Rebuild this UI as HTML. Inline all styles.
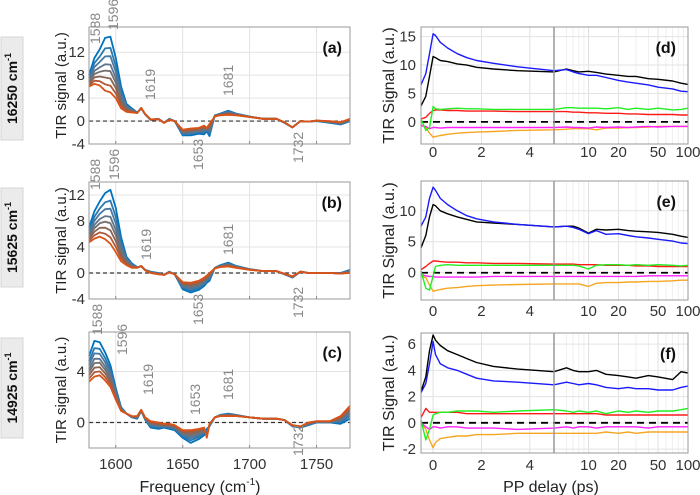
<!DOCTYPE html>
<html><head><meta charset="utf-8"><style>
body{margin:0;background:#fff;}
svg{display:block;font-family:"Liberation Sans",sans-serif;}
</style></head><body>
<svg id="fig" width="700" height="495" viewBox="0 0 700 495"></svg>
<script>
// ---------- spectra data ----------
const freq = [1580,1584,1588,1592,1596,1600,1604,1608,1612,1616,1619,1622,1626,1632,1636,1640,1644,1650,1656,1662,1666,1668,1670,1674,1678,1684,1690,1700,1710,1720,1726,1732,1738,1744,1750,1760,1768,1775];
const aBlue = [8,11,12.5,14.5,14.7,11,6,3,2.2,1.5,2.2,1.2,0.2,0.4,-0.3,0.4,0,-2.5,-2.5,-2.2,-2.3,-1.8,-2.6,1,1.3,1.8,1.3,0.8,0.4,0.4,-0.3,-1.1,0,-0.1,0,-0.3,-0.6,0];
const aOrange = [6,6.5,6.2,5.3,5,4,2.2,1.6,1.5,1.4,2.3,1.2,0.3,0.3,-0.3,0.2,0,-1.5,-1.3,-1.2,-0.8,-1.2,-0.5,0.8,1,1.1,1,0.7,0.4,0.4,-0.2,-1.1,0,-0.1,0.1,0,-0.2,0.4];
const bBlue = [7,9.5,11,12.3,12.8,10,5.5,2.5,1.5,0.9,1,0.5,0.2,0,-0.3,0.2,-0.2,-2.5,-3,-2.6,-2,-1.5,-1.2,0.8,1.2,1.6,1.1,0.6,0.3,0.3,-0.2,-0.7,0.2,0,0,0,0,0.5];
const bOrange = [4.7,5.3,5.6,5.2,4.5,3.2,1.8,1.2,0.8,0.8,1.1,0.4,0,-0.2,-0.3,0.1,-0.2,-1.4,-1.5,-1.2,-0.7,-0.4,0,0.7,0.9,1,0.8,0.5,0.3,0.3,-0.1,-0.5,0.2,0,0,0,-0.1,0];
const cBlue = [5.2,6.4,6.3,5.5,4.5,2.7,1.2,0.7,0.4,0.3,0.9,0.2,-0.4,-0.5,-0.4,-0.5,-0.6,-1.2,-1.6,-1.3,-1,-0.5,-0.3,0.4,0.6,0.7,0.6,0.4,0.3,0.3,0.2,-0.3,-0.4,-0.2,0,0,-0.1,0.3];
const cOrange = [3.2,3.6,3.7,3.3,2.8,1.8,0.9,0.7,0.5,0.5,1.0,0.4,0.1,0,-0.1,-0.1,-0.2,-0.6,-0.6,-0.5,-0.4,-1.2,-0.1,0.4,0.5,0.5,0.5,0.4,0.3,0.3,0.2,-0.2,-0.3,0,0.1,0.1,0.5,1.3];
const mixWeights = [0,0.2,0.35,0.5,0.62,0.75,0.88,1];
const specColors = ["#0072BD","#2a78b0","#4a78a0","#60748a","#757070","#8a6455","#b05a38","#D95319"];
// ---------- kinetics data ----------
const times = [-0.5,-0.3,-0.15,0,0.1,0.3,0.6,1,1.4,1.8,2.5,3.5,5,6,7,8,10,12,15,20,25,30,40,50,70,85,100];
const dBlue=[6.5,8.5,12,15.5,15.2,14,13,12,11.3,10.8,10.3,9.7,9,9.2,8.8,8.5,8.2,8.2,7.8,7.3,7,6.8,6.5,6.1,5.8,5.4,5.3];
const dBlack=[2.8,4.5,8,11.5,11.3,10.8,10.6,10.2,10,9.6,9.3,9,8.8,9.3,9.0,8.8,8.9,8.7,8.4,8.2,8.0,8.0,7.6,7.5,7.2,6.8,6.6];
const dGreen=[0.5,-1.5,-1,2.7,2.3,2.2,2.3,2.4,2.3,2.3,2.2,2.2,2.2,2.5,2.5,2.4,2.4,2.4,2.3,2.5,2.2,2.4,2.2,2.4,2.1,2.2,2.4];
const dRed=[0.5,0.8,1.5,2.0,2.1,2.1,2.0,2.0,1.9,1.9,1.9,1.8,1.8,1.8,1.7,1.7,1.6,1.6,1.5,1.5,1.4,1.4,1.3,1.3,1.3,1.2,1.2];
const dMagenta=[-0.7,-0.8,-1.2,-1.0,-1.0,-1.1,-1.0,-1.0,-1.0,-1.0,-1.0,-1.0,-1.0,-0.9,-1.0,-1.0,-1.1,-0.9,-1.0,-0.9,-1.0,-0.9,-0.8,-0.9,-0.8,-0.8,-0.8];
const dOrange=[-0.5,-1,-2,-2.7,-2.6,-2.4,-2.2,-2.0,-1.9,-1.8,-1.7,-1.5,-1.4,-1.3,-1.2,-1.2,-1.2,-1.4,-1.1,-1.1,-1.0,-1.0,-0.9,-0.8,-0.8,-0.8,-0.8];
const eBlue=[7.5,9,12,13.8,13.3,12,11,10,9.2,8.7,8.2,7.8,7.4,7.5,7.3,7.0,6.3,6.8,6.2,6.3,6.0,5.8,5.6,5.4,5.1,4.8,4.7];
const eBlack=[4,6,9,11,10.8,10,9.5,9,8.6,8.2,8,7.8,7.4,7.5,7.5,7.2,6.4,7.0,6.9,7.0,6.8,6.7,6.6,6.5,6.2,5.9,5.7];
const eGreen=[0.3,-2.5,-2.8,-0.5,1.0,1.2,1.3,1.2,1.2,1.2,1.2,1.2,1.2,1.2,1.2,1.1,0.6,1.2,1.3,1.3,1.2,1.3,1.2,1.3,1.2,1.1,1.2];
const eRed=[0.5,1,1.5,1.9,1.9,1.8,1.7,1.7,1.6,1.6,1.5,1.5,1.4,1.4,1.4,1.3,1.3,1.3,1.2,1.2,1.2,1.1,1.1,1.0,1.0,1.0,1.0];
const eMagenta=[-0.3,-0.5,-0.6,-0.6,-0.7,-0.7,-0.7,-0.7,-0.7,-0.7,-0.6,-0.6,-0.6,-0.6,-0.6,-0.6,-0.6,-0.6,-0.6,-0.6,-0.6,-0.6,-0.5,-0.5,-0.5,-0.5,-0.5];
const eOrange=[-0.5,-0.8,-2,-3.0,-2.9,-2.7,-2.5,-2.4,-2.2,-2.1,-2.0,-1.9,-1.8,-1.8,-1.8,-1.8,-2.2,-1.7,-1.6,-1.6,-1.5,-1.5,-1.4,-1.4,-1.3,-1.2,-1.2];
const fBlack=[2.4,3.5,5.5,6.7,6.3,5.9,5.5,5.2,4.9,4.6,4.3,4.1,3.9,4.2,4.0,3.9,3.9,4.0,3.7,3.6,3.5,3.4,3.6,3.5,3.3,3.9,3.8];
const fBlue=[2.3,3,4.5,6.2,5.2,4.5,4.2,4.0,3.7,3.4,3.2,3.1,2.9,3.1,3.0,2.9,3.0,2.9,2.7,2.6,2.7,2.6,2.6,2.5,2.5,2.7,2.8];
const fGreen=[0.2,-1.3,-0.5,0.6,0.7,0.8,0.8,0.9,0.9,0.9,0.8,0.9,1.0,0.9,0.8,0.9,0.8,0.9,0.7,0.9,0.8,0.9,0.8,0.9,0.9,1.0,1.1];
const fRed=[0.4,1.1,0.8,0.8,0.8,0.8,0.8,0.8,0.7,0.7,0.7,0.7,0.7,0.7,0.7,0.7,0.7,0.7,0.6,0.6,0.6,0.6,0.6,0.6,0.6,0.6,0.6];
const fMagenta=[0,-0.3,-0.5,-0.3,-0.3,-0.4,-0.3,-0.3,-0.4,-0.4,-0.4,-0.5,-0.4,-0.3,-0.4,-0.3,-0.3,-0.4,-0.3,-0.3,-0.3,-0.3,-0.4,-0.3,-0.3,-0.3,-0.3];
const fOrange=[0,-0.5,-1.3,-1.9,-1.5,-1.2,-1.1,-1.0,-1.0,-0.9,-0.9,-0.8,-0.8,-0.8,-0.8,-0.8,-0.8,-0.8,-0.7,-0.8,-0.7,-0.8,-0.7,-0.7,-0.7,-0.7,-0.7];
const linTicks=[0,2,4];
const logTicks=[10,20,50,100];
const freqTicks=[1600,1650,1700,1750];

const NS="http://www.w3.org/2000/svg";
const svg=document.getElementById('fig');
function mk(tag,attrs,parent){const e=document.createElementNS(NS,tag);for(const k in attrs)e.setAttribute(k,attrs[k]);(parent||svg).appendChild(e);return e;}
function txt(s,x,y,size,fill,anchor,parent,extra){const t=mk('text',Object.assign({x:x,y:y,'font-size':size,fill:fill,'text-anchor':anchor||'middle'},extra||{}),parent);t.textContent=s;return t;}

// ---------- left panels ----------
const L={x0:89,x1:350,f0:1580,f1:1775};
function fx(f){return L.x0+(f-L.f0)/(L.f1-L.f0)*(L.x1-L.x0);}
const leftPanels=[
 {id:'a',top:27,bot:144,ymin:-4,ymax:16.4,ticks:[-4,0,4,8,12],blue:aBlue,orange:aOrange,side:'16250',sy0:37,sy1:140,
  peaks:[[1588,95,44],[1596,113,30],[1619,150,100],[1681,228,96],[1653,198,170],[1732,298,163]]},
 {id:'b',top:182,bot:299,ymin:-4,ymax:14,ticks:[-4,0,4,8,12],blue:bBlue,orange:bOrange,side:'15625',sy0:188,sy1:287,
  peaks:[[1588,95,190],[1596,114,180],[1619,146,260],[1681,228,255],[1653,198,325],[1732,298,318]]},
 {id:'c',top:332,bot:448,ymin:-2,ymax:7.1,ticks:[0,4],blue:cBlue,orange:cOrange,side:'14925',sy0:338,sy1:438,xlabels:true,
  peaks:[[1588,97,335],[1596,122,355],[1619,148,395],[1653,195,415],[1681,228,400],[1732,298,456]]}
];
leftPanels.forEach(p=>{
  const g=mk('g',{});
  
  
  const fy=v=>p.bot-(v-p.ymin)/(p.ymax-p.ymin)*(p.bot-p.top);
  // side label
  const sb=mk('rect',{x:1,y:p.sy0,width:22,height:p.sy1-p.sy0,fill:'#ebebeb',stroke:'#d4d4d4'},g);
  
  
  const cy=(p.sy0+p.sy1)/2;
  const st=mk('text',{x:17,y:cy,'font-size':14,'font-weight':'bold',fill:'#111','text-anchor':'middle',transform:'rotate(-90 17 '+cy+')'},g);
  
  
  st.appendChild(document.createTextNode(p.side+' cm'));
  const sup=document.createElementNS(NS,'tspan');sup.setAttribute('font-size',9);sup.setAttribute('dy','-6');sup.textContent='-1';st.appendChild(sup);
  // box + grid
  mk('rect',{x:L.x0,y:p.top,width:L.x1-L.x0,height:p.bot-p.top,fill:'#fff'},g);
  freqTicks.forEach(f=>{mk('line',{x1:fx(f),x2:fx(f),y1:p.top,y2:p.bot,stroke:'#e3e3e3'},g);mk('line',{x1:fx(f),x2:fx(f),y1:p.bot,y2:p.bot-3,stroke:'#888'},g);});
  p.ticks.forEach(v=>{mk('line',{x1:L.x0,x2:L.x1,y1:fy(v),y2:fy(v),stroke:'#e3e3e3'},g);
    const t=txt(v,L.x0-4,fy(v)+5,15,'#333','end',g);});
  mk('line',{x1:L.x0,x2:L.x1,y1:fy(0),y2:fy(0),stroke:'#333','stroke-dasharray':'4,3','stroke-width':1.2},g);
  // curves
  mixWeights.forEach((w,i)=>{
    let d='';freq.forEach((f,k)=>{const v=p.blue[k]*(1-w)+p.orange[k]*w;d+=(k?'L':'M')+fx(f).toFixed(1)+','+fy(v).toFixed(1);});
    const path=mk('path',{d:d,fill:'none',stroke:specColors[i],'stroke-width':1.8,'stroke-linejoin':'round'},g);
    
    
  });
  mk('rect',{x:L.x0,y:p.top,width:L.x1-L.x0,height:p.bot-p.top,fill:'none',stroke:'#999'},g);
  const pl=txt('('+p.id+')',342,p.top+26,16,'#111','end',g,{'font-weight':'bold'});
  
  const yl=txt('TIR signal (a.u.)',66,(p.top+p.bot)/2,15,'#222','middle',g,{transform:'rotate(-90 66 '+((p.top+p.bot)/2)+')'});
  
  p.peaks.forEach(pk=>{const t=txt(pk[0],pk[1]+5,pk[2],14,'#888','start',g,{transform:'rotate(-90 '+(pk[1]+5)+' '+pk[2]+')'});
    });
  if(p.xlabels){freqTicks.forEach(f=>{const t=txt(f,fx(f),469,15,'#333','middle',g);});
    const xt=txt('Frequency (cm',200,492,16,'#222','middle',g);
    const s2=document.createElementNS(NS,'tspan');s2.setAttribute('font-size',10);s2.setAttribute('dy','-7');s2.textContent='-1';xt.appendChild(s2);
    const s3=document.createElementNS(NS,'tspan');s3.setAttribute('dy','7');s3.textContent=')';xt.appendChild(s3);}
});

// ---------- right panels ----------
const R={x0:421,xs:554,x1:688,t0:-0.5,t1:5,lg0:0.653,lg1:2};
function tx(t){if(t<=5)return R.x0+(t-R.t0)/(R.t1-R.t0)*(R.xs-R.x0);return R.xs+(Math.log10(t)-R.lg0)/(R.lg1-R.lg0)*(R.x1-R.xs);}
const kinColors={blue:'#1a1aff',black:'#000',green:'#22ee22',red:'#ff1a1a',magenta:'#ff22ff',orange:'#f5a623'};
const rightPanels=[
 {id:'d',top:27,bot:144,ymin:-3.9,ymax:16.7,ticks:[0,5,10,15],tl:157,series:{orange:dOrange,magenta:dMagenta,red:dRed,green:dGreen,black:dBlack,blue:dBlue}},
 {id:'e',top:181,bot:300,ymin:-4.4,ymax:14.8,ticks:[0,5,10],tl:316,series:{orange:eOrange,magenta:eMagenta,red:eRed,green:eGreen,black:eBlack,blue:eBlue}},
 {id:'f',top:333,bot:453,ymin:-2.3,ymax:6.85,ticks:[-2,0,2,4,6],tl:470,series:{orange:fOrange,magenta:fMagenta,red:fRed,green:fGreen,blue:fBlue,black:fBlack}}
];
rightPanels.forEach(p=>{
  const g=mk('g',{});
  
  
  const fy=v=>p.bot-(v-p.ymin)/(p.ymax-p.ymin)*(p.bot-p.top);
  mk('rect',{x:R.x0,y:p.top,width:R.x1-R.x0,height:p.bot-p.top,fill:'#fff'},g);
  [6,7,8,9,30,40,60,70,80,90].forEach(t=>mk('line',{x1:tx(t),x2:tx(t),y1:p.top,y2:p.bot,stroke:'#efefef'},g));
  linTicks.concat(logTicks).forEach(t=>{mk('line',{x1:tx(t),x2:tx(t),y1:p.top,y2:p.bot,stroke:'#e0e0e0'},g);
    const l=txt(t,tx(t),p.tl,15,'#333','middle',g);});
  p.ticks.forEach(v=>{mk('line',{x1:R.x0,x2:R.x1,y1:fy(v),y2:fy(v),stroke:'#e3e3e3'},g);
    const l=txt(v,R.x0-5,fy(v)+5,15,'#333','end',g);});
  mk('line',{x1:R.x0,x2:R.x1,y1:fy(0),y2:fy(0),stroke:'#000','stroke-dasharray':'7,5','stroke-width':1.8},g);
  Object.keys(p.series).forEach(k=>{
    const vals=p.series[k];let d='';
    times.forEach((t,i)=>{d+=(i?'L':'M')+tx(t).toFixed(1)+','+fy(vals[i]).toFixed(1);});
    const path=mk('path',{d:d,fill:'none',stroke:kinColors[k],'stroke-width':1.4,'stroke-linejoin':'round'},g);
    
    
  });
  mk('rect',{x:R.x0,y:p.top,width:R.x1-R.x0,height:p.bot-p.top,fill:'none',stroke:'#999'},g);
  mk('line',{x1:R.xs,x2:R.xs,y1:p.top,y2:p.bot,stroke:'#999','stroke-width':1.5},g);
  const pl=txt('('+p.id+')',676,p.top+26,16,'#111','end',g,{'font-weight':'bold'});
  
  const cy=(p.top+p.bot)/2;
  const yl=txt('TIR Signal (a.u.)',394,cy,16,'#222','middle',g,{transform:'rotate(-90 394 '+cy+')'});
  
});
const xr=txt('PP delay (ps)',551,492,16,'#222','middle');


</script>
</body></html>
